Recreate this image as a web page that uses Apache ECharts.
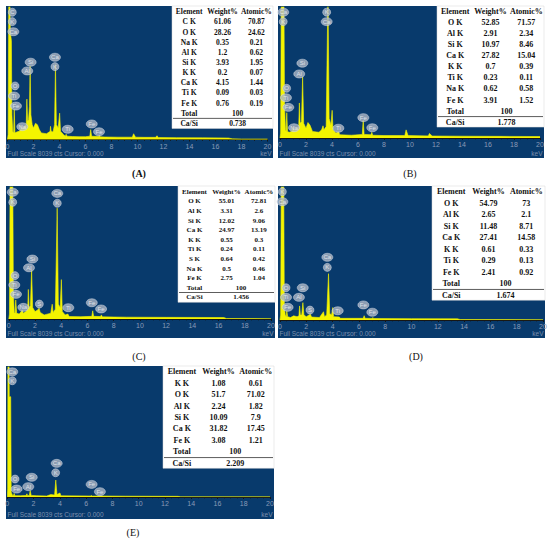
<!DOCTYPE html>
<html>
<head>
<meta charset="utf-8">
<title>EDS spectra A-E</title>
<script src="https://cdn.jsdelivr.net/npm/echarts@6/dist/echarts.min.js"></script>
<style>
  html, body { margin: 0; padding: 0; background: #fff; }
  #chart { width: 550px; height: 542px; }
</style>
</head>
<body>
<div id="chart"></div>
<script>
// spectra, [keV, counts] (full scale 8039 cts)
const specA = [
  [0, 0], [0.05, 300], [0.1, 9000], [0.18, 9000], [0.22, 6500], [0.3, 6000], [0.34, 1500], [0.4, 500],
  [0.47, 400], [0.52, 1830], [0.57, 400], [0.7, 450], [0.9, 500],
  [1.0, 600], [1.04, 850], [1.1, 650], [1.3, 800],
  [1.44, 900], [1.49, 2450], [1.55, 1100], [1.62, 1200], [1.69, 2000], [1.74, 4450], [1.8, 1500], [1.9, 900],
  [2.0, 700], [2.15, 980], [2.3, 900], [2.45, 600], [2.6, 400], [3.0, 350], [3.2, 450],
  [3.28, 500], [3.31, 800], [3.36, 500], [3.5, 450], [3.62, 900], [3.69, 4550], [3.76, 900],
  [3.9, 700], [4.01, 1600], [4.08, 500], [4.3, 300],
  [4.45, 200], [4.51, 320], [4.58, 200], [5.0, 180], [5.5, 170], [6.0, 170],
  [6.33, 200], [6.4, 600], [6.47, 200], [7.0, 180], [7.06, 260], [7.12, 160],
  [7.5, 150], [8.5, 140], [9.6, 140], [9.7, 350], [9.85, 140], [10.5, 130], [11.4, 130], [11.5, 230], [11.6, 120],
  [13, 110], [15, 100], [17, 90], [17.3, 40], [18, 30], [20, 30]
]
const specB = [
  [0, 0], [0.05, 300], [0.1, 9000], [0.3, 9000], [0.35, 2000], [0.42, 500],
  [0.47, 400], [0.52, 1550], [0.58, 400], [0.7, 350], [0.9, 400], [1.04, 700], [1.1, 450], [1.3, 550],
  [1.44, 700], [1.49, 2150], [1.55, 900], [1.65, 1000], [1.74, 3750], [1.82, 900], [2.0, 600], [2.15, 950],
  [2.3, 800], [2.5, 400], [3.0, 350], [3.2, 500], [3.31, 750], [3.38, 500], [3.55, 700], [3.69, 9000],
  [3.78, 1200], [3.92, 800], [4.01, 1700], [4.08, 500], [4.3, 300], [4.51, 380], [4.6, 200], [5.5, 170],
  [6.33, 220], [6.4, 1100], [6.47, 220], [7.0, 200], [7.06, 350], [7.13, 170], [8, 150],
  [9.6, 150], [9.7, 500], [9.85, 150], [11.4, 130], [11.5, 280], [11.7, 120], [14, 110], [17, 100], [20, 90]
]
const specC = [
  [0, 0], [0.05, 300], [0.1, 9000], [0.3, 9000], [0.35, 1500], [0.42, 400],
  [0.48, 350], [0.53, 1160], [0.6, 350], [0.8, 300], [1.04, 550], [1.1, 350], [1.3, 450],
  [1.44, 600], [1.49, 1800], [1.55, 700], [1.65, 800], [1.74, 3000], [1.82, 700], [2.0, 450], [2.2, 550],
  [2.31, 650], [2.4, 400], [2.7, 250], [3.2, 350], [3.31, 900], [3.38, 400], [3.55, 600], [3.69, 6750],
  [3.78, 900], [3.92, 700], [4.01, 2400], [4.08, 450], [4.3, 250], [4.51, 300], [4.6, 150], [5.5, 140],
  [6.33, 160], [6.4, 500], [6.47, 160], [7.0, 150], [7.06, 250], [7.13, 130], [9, 110], [12, 100],
  [16.4, 90], [16.6, 30], [20, 20]
]
const specD = [
  [0, 0], [0.05, 300], [0.1, 9000], [0.28, 9000], [0.33, 800], [0.4, 300],
  [0.47, 200], [0.52, 550], [0.58, 200], [0.8, 150], [1.04, 250], [1.3, 200],
  [1.44, 250], [1.49, 850], [1.55, 300], [1.65, 300], [1.74, 1050], [1.82, 300], [2.0, 200],
  [2.31, 350], [2.4, 180], [3.0, 150], [3.31, 500], [3.38, 200], [3.55, 300], [3.69, 2800],
  [3.78, 400], [3.92, 300], [4.01, 750], [4.08, 200], [4.51, 180], [4.6, 100],
  [6.33, 100], [6.4, 260], [6.47, 100], [7.0, 95], [7.06, 150], [7.13, 90], [10, 80],
  [13.5, 70], [13.7, 30], [20, 20]
]
const specE = [
  [0, 0], [0.03, 500], [0.05, 9000], [0.13, 9000], [0.15, 6200], [0.26, 6200], [0.3, 300], [0.4, 100],
  [0.47, 90], [0.52, 220], [0.58, 80], [1.0, 80], [1.44, 90], [1.49, 200], [1.55, 80],
  [1.68, 100], [1.74, 400], [1.82, 100], [2.2, 80], [3.0, 60], [3.31, 150], [3.6, 120], [3.69, 1050],
  [3.78, 150], [4.01, 250], [4.08, 70], [6.33, 60], [6.4, 90], [6.47, 55], [7, 60], [9, 50],
  [13, 40], [13.2, 15], [20, 10]
]

// peak markers: [element, keV, counts]
const peaksA = [
  ['C', 0.37, 7720], ['K', 0.37, 7150], ['Ca', 0.45, 6540], ['O', 0.58, 3250], ['Ti', 0.5, 2640],
  ['Fe', 0.65, 2030], ['Si', 1.78, 4690], ['Al', 1.52, 4160], ['Na', 1.14, 780], ['Ca', 3.65, 4990],
  ['K', 3.65, 4420], ['Ti', 4.63, 620], ['Fe', 6.48, 940], ['Fe', 7.04, 470]
]
const peaksB = [
  ['Ca', 0.25, 7720], ['K', 0.25, 7140], ['K', 3.59, 7720], ['Ca', 3.59, 7140], ['Si', 1.72, 4590],
  ['Al', 1.48, 3930], ['O', 0.51, 3050], ['Ti', 0.46, 2470], ['Fe', 0.64, 1880], ['Na', 1.08, 630],
  ['Ti', 4.49, 600], ['Fe', 6.41, 1250], ['Fe', 7.1, 630]
]
const peaksC = [
  ['Ca', 0.3, 7720], ['K', 0.3, 7110], ['Ca', 3.7, 7650], ['K', 3.7, 7050], ['Si', 1.8, 3650],
  ['Al', 1.54, 3120], ['O', 0.47, 2640], ['Ti', 0.42, 2070], ['Fe', 0.55, 1500], ['Na', 1.11, 710],
  ['S', 2.33, 910], ['Ti', 4.54, 690], ['Fe', 6.33, 990], ['Fe', 7.04, 610]
]
const peaksD = [
  ['K', 0.18, 7750], ['Ca', 0.18, 7150], ['Ca', 3.6, 3790], ['K', 3.6, 3180], ['O', 0.46, 1950],
  ['Si', 1.73, 1950], ['Ti', 0.46, 1370], ['Al', 1.44, 1370], ['Fe', 0.58, 770], ['S', 2.28, 600],
  ['Ti', 4.39, 560], ['Fe', 6.34, 910], ['Fe', 7.02, 470]
]
const peaksE = [
  ['Ca', 0.38, 7740], ['K', 0.38, 7190], ['O', 0.59, 1110], ['Fe', 0.71, 490], ['Si', 1.86, 1220],
  ['Al', 1.6, 640], ['Ca', 3.76, 2080], ['K', 3.68, 1500], ['Fe', 6.42, 780], ['Fe', 7.05, 330]
]

// quantification tables
const elemA = ['C K', 'O K', 'Na K', 'Al K', 'Si K', 'K K', 'Ca K', 'Ti K', 'Fe K']
const weightA = [61.06, 28.26, 0.35, 1.2, 3.93, 0.2, 4.15, 0.09, 0.76]
const atomicA = [70.87, 24.62, 0.21, 0.62, 1.95, 0.07, 1.44, 0.03, 0.19]
const ratioA = 0.738

const elemB = ['O K', 'Al K', 'Si K', 'Ca K', 'K K', 'Ti K', 'Na K', 'Fe K']
const weightB = [52.85, 2.91, 10.97, 27.82, 0.7, 0.23, 0.62, 3.91]
const atomicB = [71.57, 2.34, 8.46, 15.04, 0.39, 0.11, 0.58, 1.52]
const ratioB = 1.778

const elemC = ['O K', 'Al K', 'Si K', 'Ca K', 'K K', 'Ti K', 'S K', 'Na K', 'Fe K']
const weightC = [55.01, 3.31, 12.02, 24.97, 0.55, 0.24, 0.64, 0.5, 2.75]
const atomicC = [72.81, 2.6, 9.06, 13.19, 0.3, 0.11, 0.42, 0.46, 1.04]
const ratioC = 1.456

const elemD = ['O K', 'Al K', 'Si K', 'Ca K', 'K K', 'Ti K', 'Fe K']
const weightD = [54.79, 2.65, 11.48, 27.41, 0.61, 0.29, 2.41]
const atomicD = [73, 2.1, 8.71, 14.58, 0.33, 0.13, 0.92]
const ratioD = 1.674

const elemE = ['K K', 'O K', 'Al K', 'Si K', 'Ca K', 'Fe K']
const weightE = [1.08, 51.7, 2.24, 10.09, 31.82, 3.08]
const atomicE = [0.61, 71.02, 1.82, 7.9, 17.45, 1.21]
const ratioE = 2.209

const headers = ['Element', 'Weight%', 'Atomic%']
const fullScale = 8039

// layout of each panel (page pixels)
const panels = [
  { tag: '(A)', bold: true, spec: specA, peaks: peaksA, el: elemA, wt: weightA, at: atomicA, ratio: ratioA,
    box: [6, 6, 273, 158], x0: 7.5, x20: 267.5, yb: 139.5, tab: [172, 6, 101, 10.16], font: 7.5, pos: [139, 173] },
  { tag: '(B)', spec: specB, peaks: peaksB, el: elemB, wt: weightB, at: atomicB, ratio: ratioB,
    box: [278, 6, 544, 158], x0: 280, x20: 540, yb: 138, tab: [437, 6, 107, 11.04], font: 8, pos: [410, 173] },
  { tag: '(C)', spec: specC, peaks: peaksC, el: elemC, wt: weightC, at: atomicC, ratio: ratioC,
    box: [6, 186, 275, 338], x0: 8.8, x20: 271, yb: 319, tab: [178, 186, 97, 9.6], font: 7, pos: [139, 356] },
  { tag: '(D)', spec: specD, peaks: peaksD, el: elemD, wt: weightD, at: atomicD, ratio: ratioD,
    box: [278, 186, 545, 338], x0: 280, x20: 543, yb: 320, tab: [432, 186, 113, 11.5], font: 8, pos: [416, 356] },
  { tag: '(E)', spec: specE, peaks: peaksE, el: elemE, wt: weightE, at: atomicE, ratio: ratioE,
    box: [6, 366, 274, 519], x0: 7.3, x20: 270, yb: 497, tab: [163, 366, 111, 11.45], font: 8, pos: [133, 532] }
]

const serif = '"Liberation Serif", "Times New Roman", serif'
const axisDark = '#161616'

function txt (x, y, text, size, opts) {
  return Object.assign({
    type: 'text',
    x: x,
    y: y,
    z: 60,
    silent: true,
    style: {
      text: String(text),
      fontSize: size,
      fontFamily: serif,
      fontWeight: 'bold',
      fill: '#111',
      align: 'center',
      verticalAlign: 'middle',
      textAlign: 'center',
      textVerticalAlign: 'middle'
    }
  }, opts || {})
}

let graphics = []
panels.forEach(p => {
  let [bx0, by0, bx1, by1] = p.box
  graphics.push({
    type: 'rect', z: -10, silent: true,
    shape: { x: bx0, y: by0, width: bx1 - bx0, height: by1 - by0 },
    style: { fill: '#083a6c' }
  })
  // bottom status line
  graphics.push({
    type: 'text', x: bx0 + 1.5, y: by1 - 5, z: 10, silent: true,
    style: { text: 'Full Scale ' + fullScale + ' cts Cursor: 0.000', fontSize: 6.5, fontFamily: 'Arial, "Liberation Sans"',
      fill: '#7d90ae', align: 'left', verticalAlign: 'middle', textAlign: 'left', textVerticalAlign: 'middle' }
  })
  graphics.push({
    type: 'text', x: bx1 - 1.5, y: by1 - 5, z: 10, silent: true,
    style: { text: 'keV', fontSize: 6.5, fontFamily: 'Arial, "Liberation Sans"',
      fill: '#7d90ae', align: 'right', verticalAlign: 'middle', textAlign: 'right', textVerticalAlign: 'middle' }
  })
  // table
  let [tx, ty, tw, step] = p.tab
  let n = p.el.length
  let hy = ty + 5.7
  graphics.push({
    type: 'rect', z: 50, silent: true,
    shape: { x: tx, y: ty, width: tw, height: 5.7 + (n + 2) * step + 5 },
    style: { fill: '#ffffff', stroke: '#d6d6d6', lineWidth: 0.5 }
  })
  let c1 = tx + tw * 0.17
  let c2 = tx + tw * 0.5
  let c3 = tx + tw * 0.835
  let cm = tx + tw * 0.65
  graphics.push(txt(c1, hy, headers[0], p.font))
  graphics.push(txt(c2, hy, headers[1], p.font))
  graphics.push(txt(c3, hy, headers[2], p.font))
  p.el.forEach((e, i) => {
    let y = hy + (i + 1) * step
    graphics.push(txt(c1, y, e, p.font))
    graphics.push(txt(c2, y, p.wt[i], p.font))
    graphics.push(txt(c3, y, p.at[i], p.font))
  })
  let yt = hy + (n + 1) * step
  graphics.push(txt(c1, yt, 'Total', p.font))
  graphics.push(txt(cm, yt, 100, p.font))
  let ys = hy + (n + 1.5) * step
  graphics.push({
    type: 'line', z: 55, silent: true,
    shape: { x1: tx + 1, y1: ys, x2: tx + tw - 1, y2: ys },
    style: { stroke: '#333', lineWidth: 0.8 }
  })
  let yr = hy + (n + 2) * step
  graphics.push(txt(c1, yr, 'Ca/Si', p.font))
  graphics.push(txt(cm, yr, p.ratio, p.font))
  // panel caption
  graphics.push(txt(p.pos[0], p.pos[1], p.tag, 10, {}))
  graphics[graphics.length - 1].style.fontWeight = p.bold ? 'bold' : 'normal'
})

let myChart = echarts.init(document.getElementById('chart'), null, { renderer: 'svg' })
myChart.setOption({
  animation: false,
  grid: panels.map(p => ({
    left: p.x0,
    top: p.box[1] + 1,
    width: p.x20 - p.x0,
    height: p.yb - p.box[1] - 1
  })),
  xAxis: panels.map((p, i) => ({
    gridIndex: i,
    type: 'value',
    min: 0,
    max: 20,
    interval: 2,
    axisLine: { lineStyle: { color: axisDark, width: 1 } },
    axisTick: { length: 2, lineStyle: { color: axisDark } },
    minorTick: { show: true, splitNumber: 4, length: 1.3, lineStyle: { color: axisDark } },
    splitLine: { show: false },
    axisLabel: { color: '#8a9bb7', fontSize: 7, margin: 3, fontFamily: 'Arial, "Liberation Sans"' }
  })),
  yAxis: panels.map((p, i) => ({
    gridIndex: i,
    type: 'value',
    min: 0,
    max: fullScale,
    show: false
  })),
  series: panels.map((p, i) => ({
    type: 'line',
    xAxisIndex: i,
    yAxisIndex: i,
    data: p.spec,
    symbol: 'none',
    clip: true,
    z: 3,
    lineStyle: { color: '#f4f400', width: 0.6 },
    areaStyle: { color: '#f4f400', opacity: 1 }
  })).concat(panels.map((p, i) => ({
    type: 'scatter',
    xAxisIndex: i,
    yAxisIndex: i,
    silent: true,
    clip: false,
    z: 5,
    symbol: 'circle',
    data: p.peaks.map(d => ({
      name: d[0],
      value: [d[1], d[2]],
      symbolSize: [d[0].length > 1 ? 11 : 8, 8]
    })),
    itemStyle: { color: '#adb6c5', borderColor: '#dde2ea', borderWidth: 0.6 },
    label: {
      show: true,
      position: 'inside',
      formatter: '{b}',
      fontSize: 6,
      color: '#f2f4f8',
      fontFamily: 'Arial, "Liberation Sans"'
    }
  }))),
  graphic: graphics
})
</script>
</body>
</html>
